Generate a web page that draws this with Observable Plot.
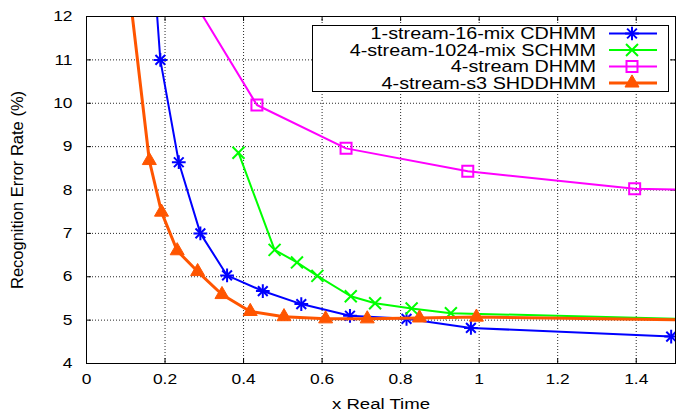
<!DOCTYPE html>
<html><head><meta charset="utf-8">
<script src="https://cdn.jsdelivr.net/npm/d3@7"></script>
<script src="https://cdn.jsdelivr.net/npm/@observablehq/plot@0.6"></script>
<style>
body{margin:0;background:#fff;}
#wrap{width:676px;height:411px;}
</style></head><body><div id="wrap"></div>
<script>
// ---- data ----
const seriesNames = ["1-stream-16-mix CDHMM", "4-stream-1024-mix SCHMM", "4-stream DHMM", "4-stream-s3 SHDDHMM"];
const seriesColors = ["#0000ff", "#00ff00", "#ff00ff", "#ff5500"];

const cdhmmX = [0.170, 0.188, 0.235, 0.290, 0.358, 0.449, 0.547, 0.671, 0.815, 0.979, 1.489];
const cdhmmY = [13.25, 11.00, 8.64, 7.00, 6.03, 5.67, 5.37, 5.10, 5.03, 4.82, 4.62];

const schmmX = [0.387, 0.479, 0.536, 0.588, 0.673, 0.735, 0.828, 0.928, 1.55];
const schmmY = [8.86, 6.62, 6.33, 6.02, 5.55, 5.39, 5.27, 5.16, 5.02];

const dhmmX = [0.25, 0.434, 0.661, 0.971, 1.396, 1.55];
const dhmmY = [12.7, 9.96, 8.96, 8.43, 8.03, 8.00];

const shddX = [0.10, 0.160, 0.191, 0.231, 0.283, 0.345, 0.417, 0.503, 0.609, 0.715, 0.848, 0.993, 1.55];
const shddY = [13.3, 8.68, 7.49, 6.60, 6.12, 5.59, 5.20, 5.08, 5.03, 5.03, 5.05, 5.07, 5.00];

const xTicks = [0, 0.2, 0.4, 0.6, 0.8, 1, 1.2, 1.4];
const yTicks = [4, 5, 6, 7, 8, 9, 10, 11, 12];
const xLabel = "x Real Time";
const yLabel = "Recognition Error Rate (%)";

// ---- build ----
const toRows = (xs, ys) => xs.map((x, i) => ({x, y: ys[i]}));
const rows = [toRows(cdhmmX, cdhmmY), toRows(schmmX, schmmY), toRows(dhmmX, dhmmY), toRows(shddX, shddY)];
const lineWidths = [2, 2, 2, 3];

const seriesMarks = (i) => {
  const c = seriesColors[i], d = rows[i];
  const line = Plot.line(d, {x: "x", y: "y", stroke: c, strokeWidth: lineWidths[i], clip: true});
  if (i === 0) return [line,
    Plot.dot(d, {x: "x", y: "y", symbol: "plus", r: 4.5, stroke: c, strokeWidth: 2, clip: true}),
    Plot.dot(d, {x: "x", y: "y", symbol: "times", r: 4.5, stroke: c, strokeWidth: 2, clip: true})];
  if (i === 1) return [line,
    Plot.dot(d, {x: "x", y: "y", symbol: "times", r: 5.5, stroke: c, strokeWidth: 2, clip: true})];
  if (i === 2) return [line,
    Plot.dot(d, {x: "x", y: "y", symbol: "square", r: 6.2, stroke: c, fill: "none", strokeWidth: 2, clip: true})];
  return [line,
    Plot.dot(d, {x: "x", y: "y", symbol: "triangle", r: 5.2, fill: c, stroke: c, strokeWidth: 1, clip: true})];
};

const innerH = 411 - 16 - 48, innerW = 676 - 86 - 1, tl = 5;
const svg = Plot.plot({
  width: 676, height: 411,
  marginLeft: 86, marginRight: 1, marginTop: 16, marginBottom: 48,
  style: {fontFamily: "'Liberation Sans', Arial, sans-serif", fontSize: "14.5px", color: "#000", background: "#fff"},
  x: {domain: [0, 1.5]},
  y: {domain: [4, 12]},
  marks: [
    Plot.gridX(xTicks.filter(t => t > 0), {stroke: "#000", strokeOpacity: 0.85, strokeDasharray: "1,2"}),
    Plot.gridY(yTicks.filter(t => t > 4 && t < 12), {stroke: "#000", strokeOpacity: 0.85, strokeDasharray: "1,2"}),
    Plot.tickX(xTicks, {x: d => d, insetTop: innerH - tl, stroke: "#000"}),
    Plot.tickX(xTicks, {x: d => d, insetBottom: innerH - tl, stroke: "#000"}),
    Plot.tickY(yTicks, {y: d => d, insetRight: innerW - tl, stroke: "#000"}),
    Plot.tickY(yTicks, {y: d => d, insetLeft: innerW - tl, stroke: "#000"}),
    Plot.axisX(xTicks, {tickSize: 0, tickPadding: 10, label: null, tickFormat: d => String(d)}),
    Plot.axisY(yTicks, {tickSize: 0, tickPadding: 14, label: null, tickFormat: d => String(d)}),
    ...seriesMarks(0), ...seriesMarks(1), ...seriesMarks(2), ...seriesMarks(3),
    Plot.frame({stroke: "#000", strokeWidth: 1}),
    Plot.text([xLabel], {text: d => d, frameAnchor: "bottom", dy: 45, fontSize: 15.5}),
    Plot.text([yLabel], {text: d => d, frameAnchor: "left", textAnchor: "middle", dx: -69, rotate: -90, fontSize: 16.5, className: "ytitle"})
  ]
});

// ---- legend (inside the plot area, top-right) ----
const lg = d3.select(svg).append("g").attr("class", "legend");
lg.append("rect").attr("x", 312.5).attr("y", 25.5).attr("width", 356).attr("height", 66)
  .attr("fill", "#fff").attr("stroke", "#000").attr("stroke-width", 1);
const rowY = [33.5, 50, 66.5, 83];
const sym = (type, r) => d3.symbol(type, Math.PI * r * r)();
seriesNames.forEach((name, i) => {
  const y = rowY[i], c = seriesColors[i];
  lg.append("text").attr("x", 596).attr("y", y + 6).attr("text-anchor", "end")
    .attr("font-size", 16.5).attr("fill", "#000").text(name);
  lg.append("line").attr("x1", 609).attr("x2", 657).attr("y1", y).attr("y2", y)
    .attr("stroke", c).attr("stroke-width", lineWidths[i]);
  const g = lg.append("g").attr("transform", `translate(632,${y})`);
  if (i === 0) {
    g.append("path").attr("d", sym(d3.symbolPlus, 4.5)).attr("fill", "none").attr("stroke", c).attr("stroke-width", 2);
    g.append("path").attr("d", sym(d3.symbolTimes, 4.5)).attr("fill", "none").attr("stroke", c).attr("stroke-width", 2);
  } else if (i === 1) {
    g.append("path").attr("d", sym(d3.symbolTimes, 5.5)).attr("fill", "none").attr("stroke", c).attr("stroke-width", 2);
  } else if (i === 2) {
    g.append("path").attr("d", sym(d3.symbolSquare, 6.2)).attr("fill", "none").attr("stroke", c).attr("stroke-width", 2);
  } else {
    g.append("path").attr("d", sym(d3.symbolTriangle, 5.2)).attr("fill", c).attr("stroke", c).attr("stroke-width", 1);
  }
});

// horizontal stretch of horizontal texts to match the reference's wide lettering
for (const t of svg.querySelectorAll("text")) {
  if (t.closest(".ytitle") || t.closest('[transform*="rotate"]')) continue;
  const tr = t.getAttribute("transform") || "";
  if (tr.includes("rotate")) continue;
  const ax = +(t.getAttribute("x") || 0);
  t.setAttribute("transform", `${tr} translate(${ax},0) scale(1.2,1) translate(${-ax},0)`);
}

document.getElementById("wrap").appendChild(svg);
</script></body></html>
